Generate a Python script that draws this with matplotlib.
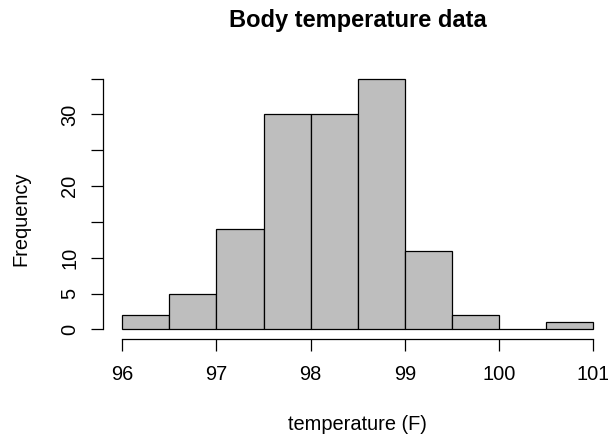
import matplotlib
matplotlib.use('Agg')
from matplotlib import pyplot as plt
import numpy as np

# histogram of body temperature (F), bins of width 0.5
bin_edges = [96.0, 96.5, 97.0, 97.5, 98.0, 98.5, 99.0, 99.5, 100.0, 100.5, 101.0]
counts = [2, 5, 14, 30, 30, 35, 11, 2, 0, 1]

x_ticks = [96, 97, 98, 99, 100, 101]
y_ticks = [0, 5, 10, 15, 20, 25, 30, 35]
y_tick_labels = ['0', '5', '10', '', '20', '', '30', '']

plt.rcParams['font.family'] = ['Liberation Sans', 'DejaVu Sans']

fig = plt.figure(figsize=(6.08, 4.38), dpi=100)
ax = fig.add_axes([0.1702, 0.2249, 0.8362, 0.6187])

edges = np.array(bin_edges)
ax.bar(edges[:-1], counts, width=np.diff(edges), align='edge',
       color='#bebebe', edgecolor='black', linewidth=0.9)

ax.set_xlim(95.8, 101.2)
ax.set_ylim(-1.4, 36.4)

for side in ['top', 'right']:
    ax.spines[side].set_visible(False)
ax.spines['left'].set_bounds(0, 35)
ax.spines['bottom'].set_bounds(96, 101)
ax.spines['bottom'].set_position(('data', -1.4))
ax.spines['left'].set_linewidth(0.9)
ax.spines['bottom'].set_linewidth(0.9)

ax.set_xticks(x_ticks)
ax.set_xticklabels([str(t) for t in x_ticks])
ax.set_yticks(y_ticks)
ax.set_yticklabels(y_tick_labels, rotation=90, va='center')
ax.tick_params(axis='both', direction='out', length=8.6, width=0.9,
               labelsize=14.4, color='black')
ax.tick_params(axis='x', pad=10)
ax.tick_params(axis='y', pad=9)

fig.text(0.588, 0.939, 'Body temperature data', ha='center', va='baseline',
         fontsize=17, fontweight='bold')
fig.text(0.588, 0.018, 'temperature (F)', ha='center', va='baseline',
         fontsize=14.4)
fig.text(0.035, 0.5, 'Frequency', ha='center', va='center', rotation=90,
         fontsize=14.4)

fig.savefig('out.png', dpi=100)
